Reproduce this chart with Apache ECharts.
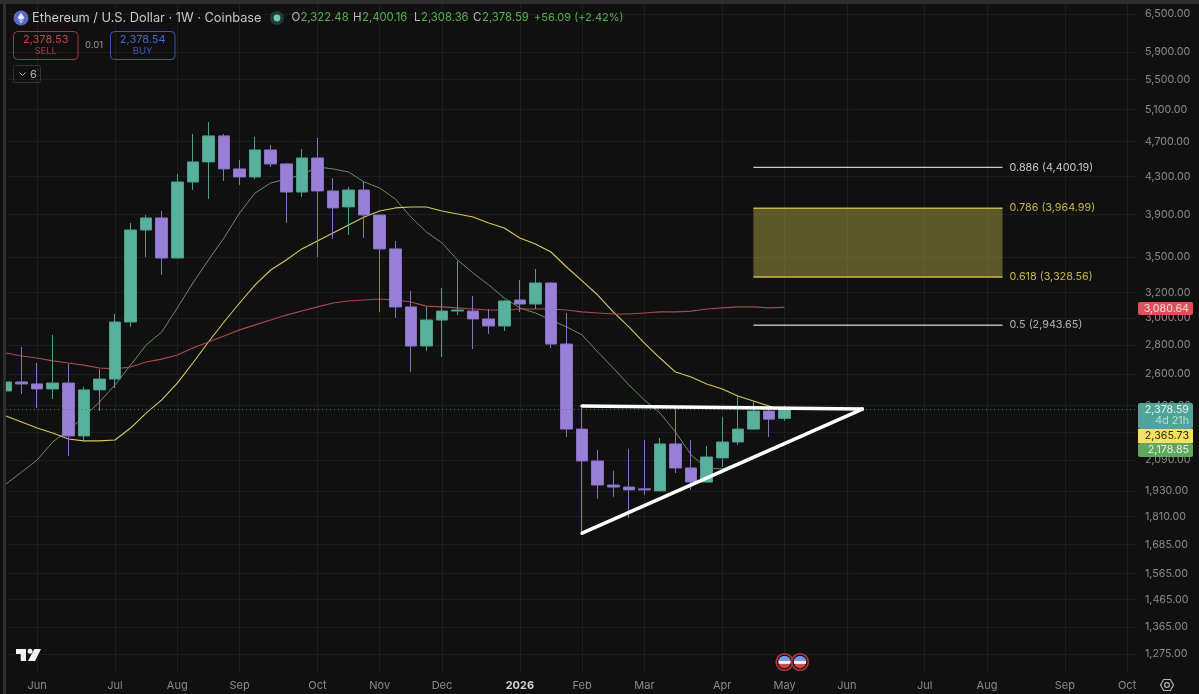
<!DOCTYPE html>
<html>
<head>
<meta charset="utf-8">
<title>ETHUSD 1W</title>
<script src="https://cdn.jsdelivr.net/npm/echarts@6/dist/echarts.min.js"></script>
<style>
html,body{margin:0;padding:0;background:#101011;}
#js_chart{width:1199px;height:694px;}
</style>
</head>
<body>
<div id="js_chart"></div>
<script>
var weeks = ['2025-05-19','2025-05-26','2025-06-02','2025-06-09','2025-06-16','2025-06-23','2025-06-30','2025-07-07','2025-07-14','2025-07-21','2025-07-28','2025-08-04','2025-08-11','2025-08-18','2025-08-25','2025-09-01','2025-09-08','2025-09-15','2025-09-22','2025-09-29','2025-10-06','2025-10-13','2025-10-20','2025-10-27','2025-11-03','2025-11-10','2025-11-17','2025-11-24','2025-12-01','2025-12-08','2025-12-15','2025-12-22','2025-12-29','2026-01-05','2026-01-12','2026-01-19','2026-01-26','2026-02-02','2026-02-09','2026-02-16','2026-02-23','2026-03-02','2026-03-09','2026-03-16','2026-03-23','2026-03-30','2026-04-06','2026-04-13','2026-04-20','2026-04-27','2026-05-04'];
var opens = [2490,2548,2535,2503,2541,2221,2497,2567,2968,3751,3868,3493,4239,4461,4766,4382,4293,4599,4438,4132,4506,4143,3978,4153,3897,3575,3084,2792,2983,3052,3052,2991,2938,3139,3107,3278,2806,2260,2084,1960,1950,1941,1931,2176,2047,1975,2100,2187,2260,2366,2322.48];
var closes = [2548,2535,2503,2541,2221,2497,2567,2968,3751,3868,3493,4239,4461,4766,4382,4293,4599,4438,4132,4506,4143,3968,4153,3897,3575,3084,2792,2983,3052,3060,2991,2938,3131,3107,3278,2806,2260,2084,1960,1950,1936,1936,2176,2047,1975,2105,2187,2260,2366,2318,2378.59];
var lows = [2354,2471,2385,2440,2110,2187,2366,2509,2931,3502,3346,3490,4153,4060,4250,4206,4271,4404,3819,4080,3502,3666,3704,3676,3045,2999,2613,2757,2715,3021,2771,2879,2901,3045,3068,2778,2215,1734,1892,1902,1803,1911,1930,2021,1936,1974,2052,2170,2255,2215,2308.36];
var highs = [2729,2785,2674,2872,2667,2516,2633,3029,3819,3897,3937,4326,4790,4938,4790,4484,4754,4657,4449,4610,4742,4282,4185,4250,3900,3648,3212,3084,3237,3467,3171,3068,3139,3304,3397,3285,3037,2385,2143,2032,2149,2198,2210,2385,2198,2165,2330,2459,2421,2391,2400.16];

// moving averages, one value per week
var maGreen = [1965,2026,2089,2187,2255,2330,2421,2529,2660,2799,2893,3076,3278,3475,3676,3917,4122,4228,4271,4315,4404,4382,4348,4239,4174,4060,3878,3732,3629,3475,3362,3262,3155,3076,3037,2983,2931,2872,2750,2640,2529,2434,2354,2243,2116,2047,2042,2073,2110,2148,2178.85];
var maYellow = [2336,2301,2266,2238,2204,2193,2193,2198,2266,2354,2434,2541,2674,2821,2968,3115,3262,3388,3475,3575,3648,3723,3799,3878,3937,3968,3978,3978,3937,3907,3878,3819,3771,3676,3620,3547,3414,3295,3179,3045,2931,2813,2708,2613,2580,2535,2503,2459,2428,2397,2365.73];
var maRed = [2743,2722,2708,2688,2674,2660,2640,2634,2647,2681,2701,2729,2778,2821,2864,2909,2946,2983,3021,3052,3084,3115,3131,3139,3147,3139,3123,3091,3084,3076,3068,3060,3060,3068,3068,3068,3060,3045,3037,3029,3029,3037,3045,3045,3052,3068,3076,3084,3084,3076,3080.64];

var yTicks = [6500,5900,5500,5100,4700,4300,3900,3500,3200,3000,2800,2600,2400,2240,2090,1930,1810,1685,1565,1465,1365,1275];
var xTickDates = ['2025-06-02','2025-07-07','2025-08-04','2025-09-01','2025-10-06','2025-11-03','2025-12-01','2026-01-05','2026-02-02','2026-03-02','2026-04-06','2026-05-04','2026-06-01','2026-07-06','2026-08-03','2026-09-07','2026-10-05'];
var xTickLabels = ['Jun','Jul','Aug','Sep','Oct','Nov','Dec','2026','Feb','Mar','Apr','May','Jun','Jul','Aug','Sep','Oct'];

// drawn levels
var fibStart = '2026-04-20', fibEnd = '2026-08-10';
var fibNames = ['0.886','0.786','0.618','0.5'];
var fibPrices = [4400.19,3964.99,3328.56,2943.65];
var triDates = ['2026-02-02','2026-06-08'];
var triTop = [2397,2378];
var triLow = [1734,2378];
var lastClose = 2378.59;

var FONT = 'Inter, "Noto Sans", sans-serif';
var UP = '#58b19d', DOWN = '#9a7fd8', AXIS = '#8b8b8b';

function t(d){ return echarts.time.parse(d).getTime(); }
function money(v){ return v.toLocaleString('en-US',{minimumFractionDigits:2,maximumFractionDigits:2}); }

var xTickTimes = xTickDates.map(t);
var candles = weeks.map(function(w,i){ return [t(w),opens[i],closes[i],lows[i],highs[i]]; });
function maLine(name,values,color,width){
    return {
        name:name, type:'line', z:2, symbol:'none', silent:true,
        lineStyle:{color:color,width:width},
        data:weeks.map(function(w,i){ return [t(w),values[i]]; })
    };
}
function fibLine(i,color,width){
    return {
        name:fibNames[i], type:'line', z:4, symbol:'none', silent:true,
        lineStyle:{color:color,width:width},
        endLabel:{show:true,distance:7,color:color,fontFamily:FONT,fontSize:10.8,
            formatter:fibNames[i]+' ('+money(fibPrices[i])+')'},
        data:[[t(fibStart),fibPrices[i]],[t(fibEnd),fibPrices[i]]]
    };
}
function triLine(name,values){
    return {
        name:name, type:'line', z:6, symbol:'none', silent:true,
        lineStyle:{color:'#ffffff',width:3.5,cap:'round'},
        data:triDates.map(function(d,i){ return [t(d),values[i]]; })
    };
}

var myChart = echarts.init(document.getElementById('js_chart'));
var fibBand = fibLine(1,'#c9b849',1.5);
fibBand.markArea = {
    silent:true,
    itemStyle:{color:'rgba(196,186,72,0.42)'},
    data:[[{xAxis:t(fibStart),yAxis:fibPrices[1]},{xAxis:t(fibEnd),yAxis:fibPrices[2]}]]
};
var option = {
    backgroundColor:'#101011',
    animation:false,
    textStyle:{fontFamily:FONT},
    grid:{left:6,right:63,top:4,bottom:22},
    xAxis:{
        type:'value',
        min:t('2025-05-19'),
        max:t('2026-10-09'),
        axisLine:{show:false},
        axisTick:{show:false,customValues:xTickTimes},
        splitLine:{show:true,lineStyle:{color:'#1d1d1e',width:1}},
        axisLabel:{
            customValues:xTickTimes,
            margin:8,
            hideOverlap:false,
            color:AXIS,
            fontSize:11,
            fontFamily:FONT,
            formatter:function(v){
                var s = xTickLabels[xTickTimes.indexOf(v)];
                return s==='2026' ? '{y|'+s+'}' : s;
            },
            rich:{y:{color:'#d4d4d4',fontWeight:'bold',fontSize:11,fontFamily:FONT}}
        }
    },
    yAxis:{
        type:'log',
        position:'right',
        min:1217.9,
        max:6667.5,
        axisLine:{show:false},
        axisTick:{show:false,customValues:yTicks},
        splitLine:{show:true,lineStyle:{color:'#1d1d1e',width:1}},
        axisLabel:{
            customValues:yTicks,
            margin:9,
            color:AXIS,
            fontSize:10.7,
            fontFamily:FONT,
            formatter:function(v){ return money(v); }
        }
    },
    series:[
        maLine('MA green',maGreen,'#67905c',1),
        maLine('MA yellow',maYellow,'#d9c95c',1.1),
        maLine('MA red',maRed,'#a84a4e',1.2),
        {
            name:'ETHUSD',
            type:'candlestick',
            z:3,
            barWidth:12,
            silent:true,
            itemStyle:{color:UP,color0:DOWN,borderColor:'#4f9e8d',borderColor0:'#8a72c2',borderWidth:1},
            markLine:{
                silent:true,
                symbol:'none',
                label:{show:false},
                lineStyle:{color:'#3f7f70',type:[1,3],width:1},
                data:[{yAxis:lastClose}]
            },
            data:candles
        },
        fibLine(0,'#c8c8c8',1.3),
        fibBand,
        fibLine(2,'#c9b849',1.5),
        fibLine(3,'#b5b5b5',1.3),
        triLine('triangle top',triTop),
        triLine('triangle low',triLow)
    ]
};
myChart.setOption(option);

// chrome around the plot: legend bar, order boxes, price tags, logo
function txt(x,y,s,color,size,align,weight){
    return {type:'text',z:20,silent:true,x:x,y:y,style:{text:s,fill:color,fontSize:size,fontFamily:FONT,
        align:align||'left',verticalAlign:'middle',fontWeight:weight||'normal'}};
}
function box(x,y,w,h,stroke,fill,r){
    return {type:'rect',z:19,silent:true,shape:{x:x,y:y,width:w,height:h,r:r||0},style:{fill:fill||'none',stroke:stroke||'none',lineWidth:1}};
}
function poly(points,fill){
    return {type:'polygon',z:20,silent:true,shape:{points:points},style:{fill:fill}};
}
function flag(cx,cy){
    var stripes = new echarts.graphic.LinearGradient(0,0,0,1,[
        {offset:0,color:'#6d8fe6'},{offset:0.45,color:'#7f9ee8'},{offset:0.46,color:'#f0eeee'},
        {offset:0.62,color:'#f0eeee'},{offset:0.63,color:'#d8504e'},{offset:1,color:'#c9403f'}]);
    return [
        {type:'circle',z:20,silent:true,shape:{cx:cx,cy:cy,r:8.3},style:{fill:'#161212',stroke:'#b8383a',lineWidth:1.6}},
        {type:'circle',z:21,silent:true,shape:{cx:cx,cy:cy,r:6.2},style:{fill:stripes}}
    ];
}
var G = '#59b04f', L = '#b9b9b9';
var tagX = 1138, tagW = 55, tagRight = 1189;
var items = [
    box(0,0,3,694,null,'#101011'),
    box(0,0,1199,4,null,'#2e2e2f'),
    box(3,0,3,694,null,'#2e2e2f'),
    {type:'circle',z:20,silent:true,shape:{cx:21,cy:18,r:7.5},style:{fill:'#5a66c4'}},
    poly([[21,12.5],[24.6,18],[21,20],[17.4,18]],'#e6e8f6'),
    poly([[17.6,19],[21,21],[24.4,19],[21,23.6]],'#c3c8ee'),
    txt(32,18,'Ethereum / U.S. Dollar · 1W · Coinbase','#c9c9c9',12.8),
    {type:'circle',z:20,silent:true,shape:{cx:277,cy:18,r:7},style:{fill:'#1f3d36'}},
    {type:'circle',z:21,silent:true,shape:{cx:277,cy:18,r:3.4},style:{fill:'#6fc9b2'}},
    txt(291.5,18,'O',L,11.5),
    txt(300.5,18,'2,322.48',G,11.3),
    txt(353,18,'H',L,11.5),
    txt(362,18,'2,400.16',G,11.3),
    txt(414,18,'L',L,11.5),
    txt(421,18,'2,308.36',G,11.3),
    txt(473,18,'C',L,11.5),
    txt(482,18,'2,378.59',G,11.3),
    txt(534,18,'+56.09 (+2.42%)',G,11),
    box(13.5,31.5,64.5,28,'#a03a3e',null,4),
    txt(45.7,40,'2,378.53','#c4454c',11,'center'),
    txt(45.7,51.5,'SELL','#a9393f',9.5,'center'),
    txt(85,45,'0.01','#9a9a9a',9.5),
    box(110.5,31.5,64.5,28,'#3a55bd',null,4),
    txt(142.7,40,'2,378.54','#4a66d0',11,'center'),
    txt(142.7,51.5,'BUY','#3a55bd',9.5,'center'),
    box(13.5,65.5,27,17,'#333335',null,2),
    {type:'polyline',z:20,silent:true,shape:{points:[[19.5,72.5],[22.5,75.5],[25.5,72.5]]},style:{stroke:'#c0c0c0',lineWidth:1,fill:'none'}},
    txt(30,74.5,'6','#b5b5b5',11),
    // price tags on the scale
    box(tagX,302,tagW,13,null,'#e0505a',2),
    txt(tagRight,308.5,money(maRed[maRed.length-1]),'#f3d6d8',10.7,'right'),
    box(tagX,403,tagW,26,null,'#50a598',2),
    txt(tagRight,409.5,money(lastClose),'#e1f3ef',10.7,'right'),
    txt(tagRight,421,'4d 21h','#b5e0d8',10.7,'right'),
    box(tagX,429,tagW,14,null,'#f7e260',0),
    txt(tagRight,436,money(maYellow[maYellow.length-1]),'#2b2a18',10.7,'right'),
    box(tagX,443,tagW,14,null,'#5fa85d',2),
    txt(tagRight,450,money(maGreen[maGreen.length-1]),'#e4f2e3',10.7,'right'),
    // logo
    poly([[16,649],[26,649],[26,661],[20.7,661],[20.7,654],[16,654]],'#f2f2f2'),
    {type:'circle',z:20,silent:true,shape:{cx:30,cy:651.2,r:2.5},style:{fill:'#f2f2f2'}},
    poly([[34.3,649],[41,649],[35,661],[28,661]],'#f2f2f2'),
    // settings
    {type:'polygon',z:20,silent:true,shape:{points:[[1160.5,685],[1163.7,679.5],[1170.3,679.5],[1173.5,685],[1170.3,690.5],[1163.7,690.5]]},style:{fill:'none',stroke:'#b5b5b5',lineWidth:1.2}},
    {type:'circle',z:20,silent:true,shape:{cx:1167,cy:685,r:2.4},style:{fill:'none',stroke:'#b5b5b5',lineWidth:1.2}}
].concat(flag(784.5,662),flag(800,662));
myChart.setOption({graphic:items});
</script>
</body>
</html>
